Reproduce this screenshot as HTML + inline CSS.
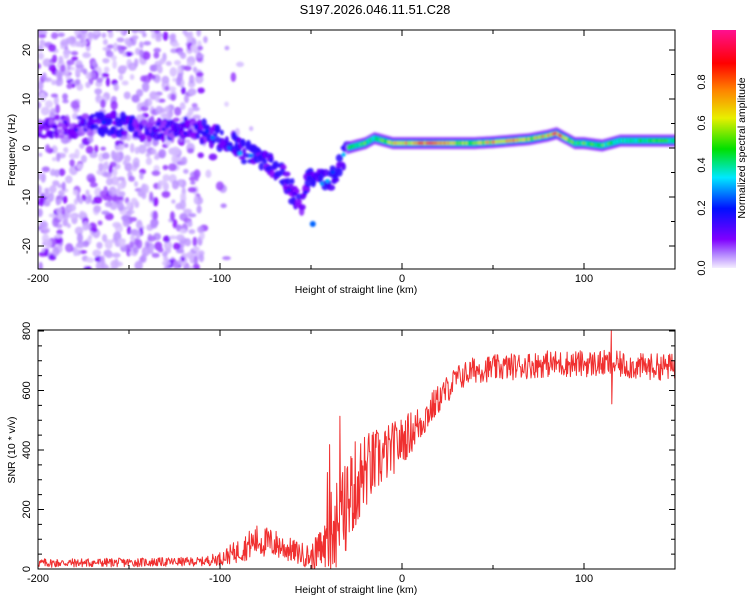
<!DOCTYPE html>
<html><head><meta charset="utf-8"><style>
body{margin:0;background:#fff;font-family:"Liberation Sans",sans-serif}
svg text{font-family:"Liberation Sans",sans-serif;font-size:11px;fill:#000}
</style></head><body>
<svg id="c" width="750" height="600" xmlns="http://www.w3.org/2000/svg">
<defs>
<filter id="bl" x="-50%" y="-50%" width="200%" height="200%"><feGaussianBlur stdDeviation="1.1"/></filter>
<clipPath id="cp1"><rect x="38" y="30" width="637" height="239"/></clipPath>
<clipPath id="cp2"><rect x="38" y="330" width="637" height="239"/></clipPath>
<linearGradient id="cg" x1="0" y1="1" x2="0" y2="0">
<stop offset="0" stop-color="#f4eeff"/><stop offset="0.06" stop-color="#b080ff"/><stop offset="0.12" stop-color="#8000ff"/>
<stop offset="0.25" stop-color="#0010ff"/><stop offset="0.38" stop-color="#00e8ff"/><stop offset="0.5" stop-color="#00e000"/>
<stop offset="0.63" stop-color="#e8ef00"/><stop offset="0.75" stop-color="#ff8000"/><stop offset="0.86" stop-color="#ff0000"/><stop offset="1" stop-color="#ff1090"/>
</linearGradient>
</defs>
<text x="375" y="14" text-anchor="middle" style="font-size:13px">S197.2026.046.11.51.C28</text>
<g id="heat" clip-path="url(#cp1)"></g>
<g id="snr" clip-path="url(#cp2)"></g>
<g id="axes"></g>
<rect x="712" y="30" width="24" height="238" fill="url(#cg)"/>
<text transform="translate(745,148) rotate(-90)" text-anchor="middle" style="font-size:10.5px">Normalized spectral amplitude</text>
</svg>
<script>
// ridge data (height km, frequency Hz, normalized amplitude)
const ridgeH = [-200,-190,-180,-170,-165,-160,-150,-140,-130,-120,-110,-100,-95,-90,-85,-80,-75,-70,-65,-60,-55,-50,-45,-40,-35,-30,-25,-20,-15,-10,-5,0,5,10,20,30,40,50,60,70,80,85,90,95,100,110,120,130,150];
const ridgeF = [4,4.5,4,5,5,5,4.5,3.5,4,4,3.5,2,1,0,-1,-2,-2.5,-4,-6,-9,-12,-5,-6,-7,-4,0,0.5,1,2,1.5,1,1,1,1,1,1,1,1.2,1.5,1.8,2.5,3,2,1,1,0.5,1.5,1.5,1.5];
const ridgeA = [0.15,0.15,0.15,0.2,0.3,0.3,0.25,0.2,0.2,0.18,0.22,0.3,0.3,0.32,0.3,0.3,0.25,0.3,0.25,0.2,0.2,0.25,0.3,0.3,0.3,0.45,0.5,0.5,0.45,0.55,0.6,0.7,0.75,0.8,0.85,0.6,0.5,0.7,0.8,0.6,0.7,0.85,0.6,0.5,0.5,0.5,0.45,0.45,0.5];
// SNR envelope data
const snrH = [-200,-150,-110,-100,-90,-80,-70,-60,-50,-40,-35,-30,-25,-20,-10,0,10,20,30,40,60,80,100,115,130,150];
const snrMean = [20,22,25,35,60,95,85,60,40,90,140,230,290,330,380,430,490,570,640,670,680,690,690,690,680,680];
const snrJit = [30,30,30,45,80,110,100,80,80,200,280,320,300,260,200,160,130,100,90,90,90,90,90,90,90,90];
const xTicks = [-200,-100,0,100];
const fTicks = [20,10,0,-10,-20];
const sTicks = [0,200,400,600,800];
const cTicks = ["0.0","0.2","0.4","0.6","0.8"];

const NS="http://www.w3.org/2000/svg";
const X0=38,X1=675;
const xs=h=>X0+(h+200)*(X1-X0)/350;
const yf=f=>148-f*4.9;
const ys=v=>569-v*(238/800);
function interp(H,V,h){for(let i=0;i<H.length-1;i++){if(h<=H[i+1]){const t=(h-H[i])/(H[i+1]-H[i]);return V[i]+t*(V[i+1]-V[i]);}}return V[V.length-1];}
function cmap(a){const st=[[0,[244,238,255]],[0.06,[176,128,255]],[0.12,[128,0,255]],[0.25,[0,16,255]],[0.38,[0,232,255]],[0.5,[0,224,0]],[0.63,[232,239,0]],[0.75,[255,128,0]],[0.86,[255,0,0]],[1,[255,16,144]]];
 a=Math.max(0,Math.min(1,a));
 for(let i=0;i<st.length-1;i++){if(a<=st[i+1][0]){const t=(a-st[i][0])/(st[i+1][0]-st[i][0]);const c=st[i][1].map((v,k)=>Math.round(v+t*(st[i+1][1][k]-v)));return`rgb(${c})`;}}return"rgb(255,16,144)";}
function el(tag,at,p){const e=document.createElementNS(NS,tag);for(const k in at)e.setAttribute(k,at[k]);p.appendChild(e);return e;}
// deterministic texture generator
let seed=12345;function rnd(){seed=(seed*1103515245+12345)%2147483648;return seed/2147483648;}

const heat=document.getElementById('heat');
const g=el('g',{filter:'url(#bl)'},heat);
// background speckle texture on left half
for(let i=0;i<800;i++){
 const h=-200+rnd()*90+(rnd()<0.1?rnd()*30:0);
 const f=-25+rnd()*50;
 const r=rnd();
 const a=r<0.6?0.02+rnd()*0.03:(r<0.88?0.05+rnd()*0.04:0.09+rnd()*0.05);
 const e=el('ellipse',{cx:xs(h),cy:yf(f),rx:2+rnd()*2.5,ry:2+rnd()*3,fill:cmap(a),opacity:0.85},g);
 
 
}
// ridge as blobs
seed=999;
for(let h=-200;h<=150;h+=1){
 const f=interp(ridgeH,ridgeF,h),a=interp(ridgeH,ridgeA,h);
 if(h<-30){
  for(let k=0;k<2;k++){
   const ff=f+(rnd()-0.5)*4;const aa=a*(0.4+rnd()*0.7);
   const e=el('ellipse',{cx:xs(h+(rnd()-0.5)*2),cy:yf(ff),rx:2+rnd()*2,ry:2+rnd()*2.5,fill:cmap(Math.min(aa,0.2)),opacity:0.9},g);
   
   
  }
 } else {
  const e=el('ellipse',{cx:xs(h),cy:yf(f),rx:2.5,ry:6.5,fill:cmap(0.09),opacity:0.7},g);
  
  
 }
}
seed=4321;
for(let h=-200;h<=150;h+=(h<-30?3:1)){
 const f=interp(ridgeH,ridgeF,h),a=interp(ridgeH,ridgeA,h);
 if(h<-30){
  if(rnd()<0.5)continue;
  const e=el('ellipse',{cx:xs(h),cy:yf(f+(rnd()-0.5)*2.5),rx:2.2,ry:2,fill:cmap(a*(0.8+rnd()*0.4))},g);
  
  
 } else {
  const e1=el('ellipse',{cx:xs(h),cy:yf(f),rx:2.2,ry:4.2,fill:cmap(0.22)},g);
  
  
  const e2=el('ellipse',{cx:xs(h),cy:yf(f),rx:2.2,ry:3,fill:cmap(0.4)},g);
  
  
  const e=el('ellipse',{cx:xs(h),cy:yf(f),rx:2,ry:2,fill:cmap(a*(0.8+rnd()*0.35))},g);
  
  
 }
}
const sp=el('ellipse',{cx:xs(-49),cy:yf(-15.5),rx:3,ry:3,fill:cmap(0.3)},g);



// SNR line
const snr=document.getElementById('snr');
let d='';seed=777;
for(let h=-200;h<=150;h+=0.3){
 let v=interp(snrH,snrMean,h)+(rnd()-0.5)*interp(snrH,snrJit,h);
 if(h<-22&&h>-45&&rnd()<0.06)v+=250;
 if(Math.abs(h-115)<0.2)v=800;
 if(Math.abs(h-115.4)<0.2)v=555;
 v=Math.max(0,v);
 d+=(d?'L':'M')+xs(h).toFixed(1)+','+ys(v).toFixed(1);
}
const ln=el('path',{d:d,fill:'none',stroke:'#f03030','stroke-width':1,'stroke-linejoin':'round'},snr);



// axes
const ax=document.getElementById('axes');
function frame(top,bot,name){
 const r=el('rect',{x:X0,y:top,width:X1-X0,height:bot-top,fill:'none',stroke:'#000','stroke-width':1},ax);
 
 
 for(let h=-200;h<=150;h+=50){const x=xs(h);const len=(h%100===0)?6:4;
  el('line',{x1:x,x2:x,y1:bot,y2:bot-len,stroke:'#000'},ax);el('line',{x1:x,x2:x,y1:top,y2:top+len,stroke:'#000'},ax);}
 for(const h of xTicks){const t=el('text',{x:xs(h),y:bot+13,'text-anchor':'middle'},ax);t.textContent=h;
  
  }
 const xt=el('text',{x:356,y:bot+24,'text-anchor':'middle',style:'font-size:10.5px'},ax);xt.textContent='Height of straight line (km)';
 
 
}
frame(30,269,'spectrogram-frame');frame(330,569,'snr-frame');
for(let f=-20;f<=20;f+=5){const y=yf(f);const len=f%10===0?6:4;el('line',{x1:X0,x2:X0+len,y1:y,y2:y,stroke:'#000'},ax);el('line',{x1:X1,x2:X1-len,y1:y,y2:y,stroke:'#000'},ax);}
for(const f of fTicks){const t=el('text',{transform:`translate(30,${yf(f)}) rotate(-90)`,'text-anchor':'middle'},ax);t.textContent=f;
 
 }
const yt=el('text',{transform:'translate(15,150) rotate(-90)','text-anchor':'middle',style:'font-size:10.5px'},ax);yt.textContent='Frequency (Hz)';


for(let v=0;v<=800;v+=50){const y=ys(v);const len=v%200===0?6:4;el('line',{x1:X0,x2:X0+len,y1:y,y2:y,stroke:'#000'},ax);el('line',{x1:X1,x2:X1-len,y1:y,y2:y,stroke:'#000'},ax);}
for(const v of sTicks){const t=el('text',{transform:`translate(30,${ys(v)}) rotate(-90)`,'text-anchor':'middle'},ax);t.textContent=v;
 
 }
const st=el('text',{transform:'translate(15,450) rotate(-90)','text-anchor':'middle',style:'font-size:10.5px'},ax);st.textContent='SNR (10 * v/v)';


const cy=[268,208,165,123,82];
cTicks.forEach((c,i)=>{const t=el('text',{transform:`translate(705,${cy[i]}) rotate(-90)`,'text-anchor':'middle'},ax);t.textContent=c;
 
 });
</script>
</body></html>
